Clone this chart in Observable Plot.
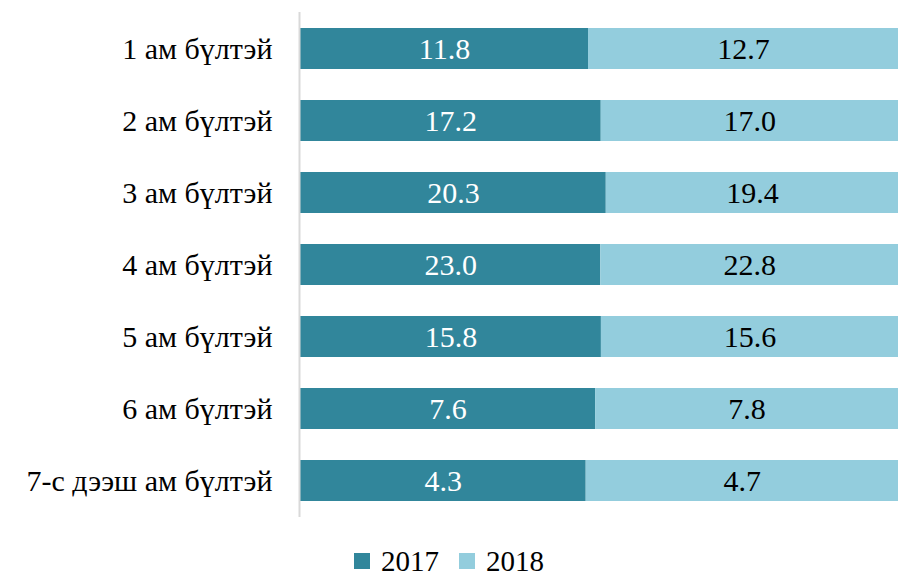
<!DOCTYPE html>
<html>
<head>
<meta charset="utf-8">
<script src="https://cdn.jsdelivr.net/npm/d3@7"></script>
<script src="https://cdn.jsdelivr.net/npm/@observablehq/plot@0.6"></script>
<style>
  body { margin: 0; background: #fff; font-family: 'Liberation Serif', serif; }
  #legend { display: flex; justify-content: center; align-items: center; gap: 20px; margin-top: 16px; font-size: 29px; line-height: 30px; height: 30px; color: #000; }
  #legend span.sw { display: inline-block; width: 16px; height: 16px; margin-right: 11px; }
  #legend .item { display: flex; align-items: center; }
</style>
</head>
<body>
<div id="chart"></div>
<div id="legend"></div>
<script>
const categories = ["1 ам бүлтэй", "2 ам бүлтэй", "3 ам бүлтэй", "4 ам бүлтэй", "5 ам бүлтэй", "6 ам бүлтэй", "7-с дээш ам бүлтэй"];
const series = ["2017", "2018"];
const values2017 = [11.8, 17.2, 20.3, 23.0, 15.8, 7.6, 4.3];
const values2018 = [12.7, 17.0, 19.4, 22.8, 15.6, 7.8, 4.7];
const colors = ["#31869B", "#93CDDD"];
const textColors = ["#ffffff", "#000000"];
const FONT = "'Liberation Serif', serif";

const data = [];
categories.forEach((c, i) => {
  data.push({cat: c, year: series[0], value: values2017[i]});
  data.push({cat: c, year: series[1], value: values2018[i]});
});

const stackOpts = {x: "value", y: "cat", fill: "year", offset: "normalize", order: series};

const chart = Plot.plot({
  width: 898,
  height: 530,
  marginLeft: 300,
  marginRight: 0,
  marginTop: 12,
  marginBottom: 13,
  style: {fontFamily: FONT},
  x: {axis: null, domain: [0, 1]},
  y: {domain: categories, paddingInner: 0.43, paddingOuter: 0.215, label: null, axis: null},
  color: {domain: series, range: colors},
  marks: [
    Plot.barX(data, Plot.stackX(stackOpts)),
    Plot.text(data, Plot.stackX({...stackOpts, text: d => d.value.toFixed(1), fill: d => d.year === series[0] ? textColors[0] : textColors[1], fontSize: 30})),
    Plot.ruleX([0], {stroke: "#d9d9d9", strokeWidth: 2, dx: -1}),
    Plot.axisY({tickSize: 0, tickPadding: 28, fontSize: 30, label: null, color: "#000"})
  ]
});
document.getElementById("chart").appendChild(chart);

const legend = document.getElementById("legend");
series.forEach((s, i) => {
  const item = document.createElement("div");
  item.className = "item";
  const sw = document.createElement("span");
  sw.className = "sw";
  sw.style.background = colors[i];
  item.appendChild(sw);
  item.appendChild(document.createTextNode(s));
  legend.appendChild(item);
});
</script>
</body>
</html>
